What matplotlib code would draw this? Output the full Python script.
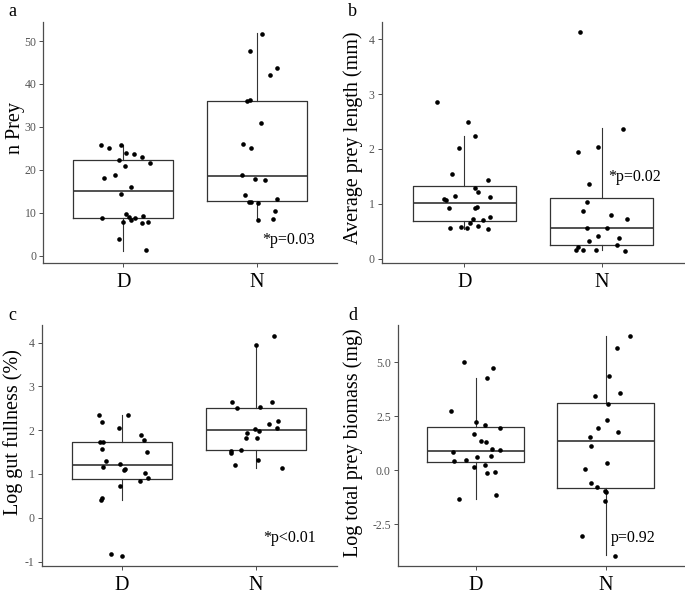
import matplotlib
matplotlib.use("Agg")
import matplotlib.pyplot as plt

plt.rcParams['font.family'] = ['Liberation Serif', 'DejaVu Serif']
plt.rcParams['axes.unicode_minus'] = False

groups = ["D", "N"]

# panel a: n prey
a_D = [25.7, 25.1, 25.7, 24.0, 23.8, 22.9, 22.2, 21.7, 20.8, 18.8, 18.1, 15.9,
       14.3, 9.8, 9.0, 8.7, 8.7, 9.2, 8.2, 7.8, 7.6, 7.8, 4.0, 1.3]
a_D_jit = [-0.165, -0.11, -0.02, 0.018, 0.08, 0.14, -0.03, 0.2, 0.01, -0.06, -0.145, 0.055,
           -0.02, 0.018, 0.04, -0.16, 0.09, 0.15, 0.055, 0.0, 0.14, 0.185, -0.03, 0.17]
a_N = [51.7, 47.7, 43.7, 42.1, 36.1, 36.3, 30.9, 25.9, 25.0, 18.8, 17.9, 17.7,
       14.1, 12.6, 12.4, 12.2, 13.2, 10.3, 8.4, 8.6]
a_N_jit = [0.04, -0.05, 0.15, 0.1, -0.07, -0.05, 0.03, -0.105, -0.04, -0.11, -0.01, 0.06,
           -0.09, -0.06, -0.04, 0.01, 0.15, 0.14, 0.01, 0.125]
# whislo, q1, median, q3, whishi
a_box = [[1.2, 8.7, 15.0, 22.2, 25.7], [8.4, 12.7, 18.5, 36.0, 51.9]]

# panel b: average prey length
b_D = [2.85, 2.49, 2.23, 2.01, 1.55, 1.44, 1.29, 1.21, 1.15, 1.09, 1.07, 1.12,
       0.92, 0.92, 0.95, 0.76, 0.72, 0.70, 0.65, 0.56, 0.58, 0.56, 0.59, 0.54]
b_D_jit = [-0.2, 0.027, 0.082, -0.04, -0.087, 0.174, 0.08, 0.1, -0.068, -0.15, -0.133, 0.186,
           -0.11, 0.08, 0.09, 0.19, 0.063, 0.136, 0.044, -0.1, -0.02, 0.02, 0.1, 0.17]
b_N = [4.13, 2.37, 1.95, 2.03, 1.36, 1.03, 0.86, 0.79, 0.73, 0.56, 0.55, 0.41,
       0.33, 0.37, 0.22, 0.24, 0.15, 0.15, 0.15, 0.13]
b_N_jit = [-0.155, 0.153, -0.17, -0.03, -0.094, -0.106, -0.133, 0.068, 0.186, -0.11, 0.04, -0.024,
           -0.094, 0.128, -0.17, 0.114, -0.19, -0.133, -0.04, 0.17]
b_box = [[0.54, 0.69, 1.01, 1.32, 2.23], [0.15, 0.24, 0.55, 1.10, 2.38]]

# panel c: log gut fullness
c_D = [2.34, 2.34, 2.19, 2.05, 1.88, 1.78, 1.74, 1.74, 1.58, 1.51, 1.30, 1.23,
       1.16, 1.12, 1.08, 1.02, 0.91, 0.84, 0.73, 0.46, 0.40, -0.82, -0.87]
c_D_jit = [-0.17, 0.047, -0.147, -0.025, 0.14, 0.16, -0.167, -0.14, -0.15, 0.187, -0.12, -0.015,
           -0.14, 0.022, 0.017, 0.17, 0.19, 0.13, -0.015, -0.15, -0.16, -0.085, 0.0]
c_N = [4.15, 3.95, 2.65, 2.65, 2.51, 2.52, 2.20, 2.14, 1.94, 2.03, 1.97, 2.05,
       1.81, 1.81, 1.55, 1.52, 1.47, 1.33, 1.21, 1.14]
c_N_jit = [0.13, 0.0, -0.18, 0.12, -0.14, 0.027, 0.164, 0.095, -0.07, -0.005, 0.02, 0.154,
           -0.075, 0.007, -0.11, -0.187, -0.19, 0.015, -0.16, 0.19]
c_box = [[0.40, 0.89, 1.21, 1.74, 2.34], [1.14, 1.54, 2.01, 2.50, 3.95]]

# panel d: log total prey biomass
d_D = [5.0, 4.74, 4.27, 2.76, 2.24, 2.11, 1.94, 1.68, 1.36, 1.30, 0.97, 0.94,
       0.86, 0.68, 0.60, 0.43, 0.46, 0.26, 0.15, -0.11, -0.08, -1.16, -1.34]
d_D_jit = [-0.09, 0.13, 0.09, -0.187, 0.003, 0.074, 0.19, -0.015, 0.041, 0.082, 0.123, 0.185,
           -0.177, 0.118, 0.01, -0.17, -0.074, 0.074, -0.015, 0.087, 0.146, 0.154, -0.13]
d_N = [6.22, 5.68, 4.35, 3.60, 3.43, 3.06, 2.35, 1.94, 1.76, 1.56, 1.14, 0.35,
       0.05, -0.60, -0.76, -0.97, -1.0, -1.44, -3.02, -3.95]
d_N_jit = [0.19, 0.09, 0.026, 0.11, -0.08, 0.015, 0.008, -0.056, 0.097, -0.118, -0.115, 0.013,
           -0.16, -0.115, -0.07, -0.003, 0.003, -0.005, -0.18, 0.07]
d_box = [[-1.33, 0.40, 0.91, 1.99, 4.26], [-3.92, -0.83, 1.36, 3.13, 6.22]]

panels = [
    ("a", "n Prey", a_D, a_D_jit, a_N, a_N_jit, a_box,
     [0, 10, 20, 30, 40, 50], "%d", (-1.7, 54.5), "*p=0.03", (2.04, 3.6)),
    ("b", "Average prey length (mm)", b_D, b_D_jit, b_N, b_N_jit, b_box,
     [0, 1, 2, 3, 4], "%d", (-0.08, 4.32), "*p=0.02", (2.05, 1.48)),
    ("c", "Log gut fullness (%)", c_D, c_D_jit, c_N, c_N_jit, c_box,
     [-1, 0, 1, 2, 3, 4], "%d", (-1.10, 4.40), "*p<0.01", (2.05, -0.47)),
    ("d", "Log total prey biomass (mg)", d_D, d_D_jit, d_N, d_N_jit, d_box,
     [-2.5, 0.0, 2.5, 5.0], "%.1f", (-4.43, 6.73), "p=0.92", (2.04, -3.12)),
]

W, H = 685, 598
rects = [
    [43.3 / W, 1 - 263 / H, 293.4 / W, 241.3 / H],
    [381.7 / W, 1 - 263 / H, 302.5 / W, 241.3 / H],
    [41.7 / W, 1 - 566 / H, 294.8 / W, 241 / H],
    [397.7 / W, 1 - 566 / H, 286 / W, 241 / H],
]
letter_pos = [(12, 12), (352, 12), (12, 315), (353, 315)]
# y label centre, in axes fraction
label_xy = [(-0.095, 0.56), (-0.093, 0.518), (-0.096, 0.556), (-0.155, 0.51)]

fig = plt.figure(figsize=(6.85, 5.98), dpi=100)
grey = "#4d4d4d"
boxcol = "#333333"

for i, (letter, ylab, vD, jD, vN, jN, box, ticks, fmt, ylim, ptxt, ppos) in enumerate(panels):
    ax = fig.add_axes(rects[i])
    stats = []
    for k, g in enumerate(groups):
        lo, q1, med, q3, hi = box[k]
        stats.append(dict(label=g, whislo=lo, q1=q1, med=med, q3=q3, whishi=hi, fliers=[]))
    ax.bxp(stats, positions=[1, 2], widths=0.75, showcaps=False, showfliers=False,
           boxprops=dict(color=boxcol, linewidth=0.9),
           whiskerprops=dict(color=boxcol, linewidth=0.8),
           medianprops=dict(color=boxcol, linewidth=1.2))
    ax.scatter([1 + j for j in jD], vD, s=11, color="black", zorder=3, linewidths=0)
    ax.scatter([2 + j for j in jN], vN, s=11, color="black", zorder=3, linewidths=0)

    ax.set_xlim(0.4, 2.6)
    ax.set_ylim(*ylim)
    ax.set_xticks([1, 2])
    ax.set_xticklabels(groups, fontsize=14.5, color="black")
    ax.set_yticks(ticks)
    ax.set_yticklabels([fmt % t for t in ticks], fontsize=8.5, color="#555555")
    ax.set_ylabel(ylab, fontsize=14.5, va="center")
    ax.yaxis.set_label_coords(*label_xy[i])
    for s in ["top", "right"]:
        ax.spines[s].set_visible(False)
    for s in ["left", "bottom"]:
        ax.spines[s].set_color(grey)
        ax.spines[s].set_linewidth(0.9)
    ax.tick_params(axis="both", color=grey, length=3, width=0.7, pad=2)
    ax.tick_params(axis="x", pad=4)

    ax.text(ppos[0], ppos[1], ptxt, fontsize=11.5, ha="left", va="center")
    fig.text(letter_pos[i][0] / W, 1 - letter_pos[i][1] / H, letter,
             fontsize=13, ha="center", va="center")

fig.savefig("out.png", dpi=100)
